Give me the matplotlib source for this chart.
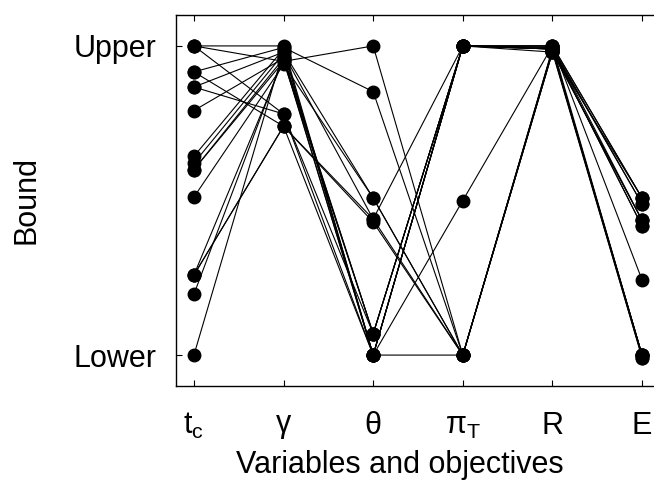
import matplotlib
matplotlib.use("Agg")
import matplotlib.pyplot as plt
import numpy as np

plt.rcParams['font.family'] = ['Liberation Sans', 'DejaVu Sans']
plt.rcParams['mathtext.fontset'] = 'custom'
plt.rcParams['mathtext.rm'] = 'Liberation Sans'
plt.rcParams['mathtext.it'] = 'Liberation Sans:italic'

# Axis labels (variables then objectives)
axis_labels = [r'$\mathregular{t_c}$', r'$\mathregular{\gamma}$', r'$\mathregular{\theta}$',
               r'$\mathregular{\pi_T}$', 'R', 'E']

# Normalised position of each solution between lower (0) and upper (1) bound
t_c   = [1.0, 1.0, 1.0, 0.916, 0.916, 0.867, 0.867, 0.791, 0.643,
         0.621, 0.60, 0.60, 0.511, 0.259, 0.259, 0.259, 0.197, 0.0]
gamma = [1.0, 0.95, 0.78, 0.995, 0.74, 0.98, 0.78, 0.96, 0.99,
         0.975, 0.96, 0.95, 0.94, 0.74, 0.74, 0.955, 0.965, 0.985]
theta = [0.0, 1.0, 0.0, 0.852, 0.0, 0.508, 0.069, 0.069, 0.0,
         0.44, 0.0, 0.069, 0.508, 0.44, 0.43, 0.0, 0.069, 0.0]
pi_T  = [1.0, 0.0, 1.0, 0.0, 0.5, 0.0, 1.0, 1.0, 1.0,
         1.0, 1.0, 1.0, 0.0, 0.0, 0.0, 0.0, 1.0, 1.0]
R     = [1.0, 0.99, 0.99, 0.98, 1.0, 0.985, 0.99, 1.0, 0.99,
         0.98, 0.995, 0.99, 0.98, 0.99, 0.985, 0.98, 0.995, 1.0]
E     = [0.508, 0.0, 0.489, 0.436, 0.243, 0.0, 0.417, 0.508, 0.0,
         -0.008, 0.489, 0.417, 0.436, 0.0, -0.008, 0.508, 0.436, 0.0]

data = np.array([t_c, gamma, theta, pi_T, R, E]).T
xpos = np.arange(len(axis_labels))

fig = plt.figure(figsize=(6.54, 4.83), dpi=100)
ax = fig.add_axes([176/654, 1 - 386/483, 484/654, 371/483])

for row in data:
    ax.plot(xpos, row, color='black', lw=0.8, zorder=2)
for i in xpos:
    ax.plot(np.full(len(data), i), data[:, i], 'o', color='black', ms=9, zorder=3)

ax.set_xlim(-0.2, 5.2)
ax.set_ylim(-0.1, 1.1)
ax.set_xticks(xpos)
ax.set_xticklabels(axis_labels, fontsize=22)
ax.set_yticks([0, 1])
ax.set_yticklabels(['Lower', 'Upper'], fontsize=22)
ax.tick_params(direction='in', length=4, width=0.8, top=True, right=True)
ax.tick_params(axis='y', pad=14)
ax.tick_params(axis='x', pad=18)
for s in ax.spines.values():
    s.set_linewidth(1.0)

ax.set_ylabel('Bound', fontsize=22)
ax.yaxis.set_label_coords((27 - 176) / 484, 0.5, transform=ax.transAxes)
ax.yaxis.label.set_va('center')
ax.set_xlabel('Variables and objectives', fontsize=22)
ax.xaxis.set_label_coords((400 - 176) / 484, -(465 - 386) / 371, transform=ax.transAxes)
ax.xaxis.label.set_va('center')

fig.savefig('out.png', dpi=100)
